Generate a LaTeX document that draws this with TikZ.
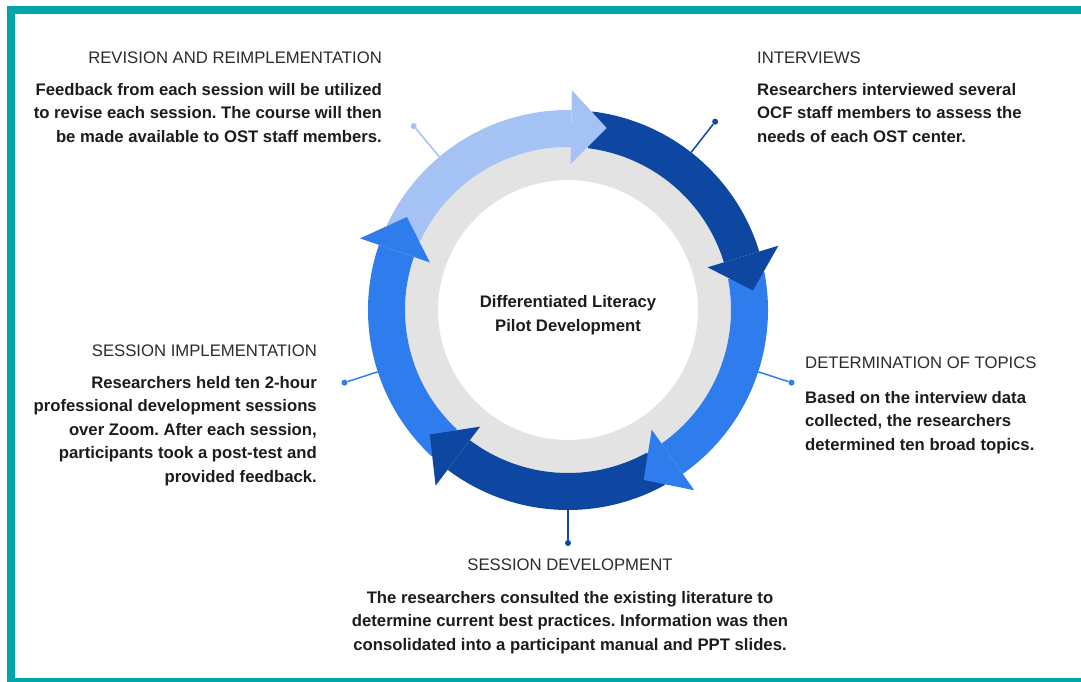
\documentclass[tikz,border=0pt]{standalone}
\usepackage{fontspec}
\setmainfont{Liberation Sans}
\usepackage{tikz}
\frenchspacing
\definecolor{frameteal}{HTML}{00A5AA}
\definecolor{ringgray}{HTML}{E3E3E3}
\definecolor{paleblue}{HTML}{A4C2F4}
\definecolor{midblue}{HTML}{2F7DEC}
\definecolor{deepblue}{HTML}{0D47A1}
\definecolor{headgray}{HTML}{2B2B2B}
\definecolor{bodyblack}{HTML}{1C1C1C}
\tikzstyle{stage}=[inner sep=0pt,text=headgray,font=\fontsize{16.7}{23.5}\selectfont]
\tikzstyle{info}=[inner sep=0pt,text=bodyblack,font=\fontsize{16.7}{23.5}\selectfont\bfseries]
\tikzstyle{dot}=[circle,inner sep=0pt,minimum size=6pt]
\tikzstyle{link}=[line width=1.5pt]

\begin{document}
\begin{tikzpicture}[x=1pt,y=1pt]
		\useasboundingbox (-568,-371) rectangle (513,310);
		\draw[frameteal,line width=8pt] (520,300) -- (-557,300) -- (-557,-372) -- (520,-372);

		\fill[ringgray,even odd rule] (0,0) circle (163) (0,0) circle (130);

		\fill[paleblue] (155:163) arc[start angle=155,end angle=89,radius=163] -- (89:200) arc[start angle=89,end angle=155,radius=200] -- cycle;
		\fill[deepblue] (83:163) arc[start angle=83,end angle=17,radius=163] -- (17:200) arc[start angle=17,end angle=83,radius=200] -- cycle;
		\fill[midblue] (11:163) arc[start angle=11,end angle=-55,radius=163] -- (-55:200) arc[start angle=-55,end angle=11,radius=200] -- cycle;
		\fill[deepblue] (-61:163) arc[start angle=-61,end angle=-127,radius=163] -- (-127:200) arc[start angle=-127,end angle=-61,radius=200] -- cycle;
		\fill[midblue] (-133:163) arc[start angle=-133,end angle=-199,radius=163] -- (-199:200) arc[start angle=-199,end angle=-133,radius=200] -- cycle;

		\fill[paleblue] (89:146) -- (89:220) -- (78:186) -- cycle;
		\fill[deepblue] (17:146) -- (17:220) -- (6:186) -- cycle;
		\fill[midblue] (-55:146) -- (-55:220) -- (-66:186) -- cycle;
		\fill[deepblue] (-127:146) -- (-127:220) -- (-138:186) -- cycle;
		\fill[midblue] (-199:146) -- (-199:220) -- (-210:186) -- cycle;

		\coordinate (revring) at (130:200);
		\node[dot,fill=paleblue] (revdot) at (130:240) {};
		\draw[link,paleblue] (revring) -- (revdot);
		\coordinate (intring) at (52:200);
		\node[dot,fill=deepblue] (intdot) at (52:239) {};
		\draw[link,deepblue] (intring) -- (intdot);
		\coordinate (topring) at (-18:200);
		\node[dot,fill=midblue] (topdot) at (-18:235) {};
		\draw[link,midblue] (topring) -- (topdot);
		\coordinate (devring) at (-90:200);
		\node[dot,fill=deepblue] (devdot) at (-90:233) {};
		\draw[link,deepblue] (devring) -- (devdot);
		\coordinate (impring) at (-162:200);
		\node[dot,fill=midblue] (impdot) at (-162:235) {};
		\draw[link,midblue] (impring) -- (impdot);

		\node[info,align=center,anchor=base] (pilot) at (0,-21) {Differentiated Literacy\\Pilot Development};

		\node[stage,anchor=base east] (revhead) at (-186,247) {REVISION AND REIMPLEMENTATION};
		\node[info,align=right,anchor=base east] (revtext) at (-186,168) {Feedback from each session will be utilized\\to revise each session. The course will then\\be made available to OST staff members.};

		\node[stage,anchor=base west] (inthead) at (189,247) {INTERVIEWS};
		\node[info,align=left,anchor=base west] (inttext) at (189,168) {Researchers interviewed several\\OCF staff members to assess the\\needs of each OST center.};

		\node[stage,anchor=base west] (tophead) at (237,-58) {DETERMINATION OF TOPICS};
		\node[info,align=left,anchor=base west] (toptext) at (237,-140) {Based on the interview data\\collected, the researchers\\determined ten broad topics.};

		\node[stage,anchor=base east] (imphead) at (-251,-46) {SESSION IMPLEMENTATION};
		\node[info,align=right,anchor=base east] (imptext) at (-251,-172) {Researchers held ten 2-hour\\professional development sessions\\over Zoom. After each session,\\participants took a post-test and\\provided feedback.};

		\node[stage,anchor=base] (devhead) at (2,-260) {SESSION DEVELOPMENT};
		\node[info,align=center,anchor=base] (devtext) at (2,-340) {The researchers consulted the existing literature to\\determine current best practices. Information was then\\consolidated into a participant manual and PPT slides.};
	\end{tikzpicture}
\end{document}
